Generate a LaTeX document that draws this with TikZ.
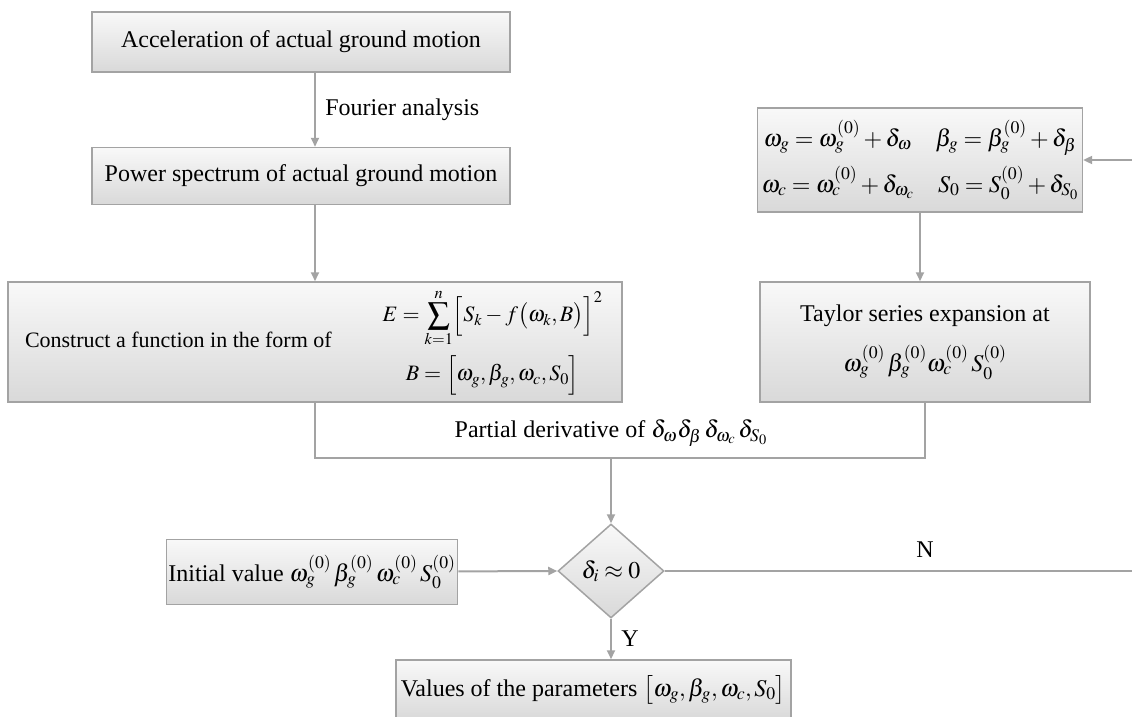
\documentclass[tikz,border=0pt]{standalone}
\usepackage{mathptmx}
\usepackage[no-math]{fontspec}
\setmainfont{Liberation Serif}
\usetikzlibrary{arrows.meta,positioning,shapes.geometric}
\definecolor{lgray}{HTML}{A3A3A3}

\begin{document}
\begin{tikzpicture}[x=1pt, y=-1pt,
    font=\fontsize{24}{29}\selectfont,
    box/.style={rectangle, draw=lgray, line width=1.5pt, top color=gray!5, bottom color=gray!30, inner sep=4pt, align=center},
    dec/.style={diamond, draw=lgray, line width=1.5pt, top color=gray!5, bottom color=gray!30, inner sep=0pt, minimum width=106pt, minimum height=94pt},
    line/.style={draw=lgray, line width=2pt},
    arr/.style={line, -{Triangle[length=9pt, width=8pt]}}
]
    \useasboundingbox (0,0) rectangle (1132,717);

    % left column
    \node[box, minimum width=418pt, minimum height=60pt] (accel) at (301,42) {Acceleration of actual ground motion};
    \node[box, minimum width=418pt, minimum height=57pt] (power) at (301,176) {Power spectrum of actual ground motion};
    \node[box, minimum width=614pt, minimum height=120pt, inner xsep=0pt] (constr) at (315,342)
        {\makebox[580pt][l]{\fontsize{22}{26}\selectfont Construct a function in the form of\hspace{46pt}%
         $\begin{array}{c}
          \displaystyle E=\sum_{k=1}^{n}\Bigl[S_k-f\bigl(\omega_k,B\bigr)\Bigr]^2\\[26pt]
          B=\Bigl[\omega_g,\beta_g,\omega_c,S_0\Bigr]
          \end{array}$}};

    % right column
    \node[box, minimum width=323pt, minimum height=104pt] (eqs) at (920,160)
        {$\omega_g=\omega_g^{(0)}+\delta_\omega\quad\beta_g=\beta_g^{(0)}+\delta_\beta$\\[10pt]
         $\omega_c=\omega_c^{(0)}+\delta_{\omega_c}\quad S_0=S_0^{(0)}+\delta_{S_0}$};
    \node[box, minimum width=330pt, minimum height=120pt] (taylor) at (925,342)
        {Taylor series expansion at\\[18pt]
         $\omega_g^{(0)}\,\beta_g^{(0)}\omega_c^{(0)}\,S_0^{(0)}$};

    % decision
    \node[dec] (check) at (611,571) {$\delta_i\approx 0$};
    \node[box, minimum width=288pt, minimum height=65pt, inner xsep=2pt] (init) at (312,572)
        {Initial value $\omega_g^{(0)}\,\beta_g^{(0)}\,\omega_c^{(0)}\,S_0^{(0)}$};
    \node[box, minimum height=60pt, inner xsep=5pt, anchor=west] (result) at (395,690)
        {Values of the parameters $\bigl[\omega_g,\beta_g,\omega_c,S_0\bigr]$};

    \coordinate (merge) at (611,458);
    \coordinate (back) at (1134,571);

    % Arrows
    \draw[arr] (accel.south -| constr) -- (power.north -| constr) node[midway, right=6pt] (fourier) {Fourier analysis};
    \draw[arr] (power.south -| constr) -- (constr.north);
    \draw[arr] (eqs.south) -- (eqs.south |- taylor.north);
    \draw[line] (constr.south) |- (merge) -| (taylor.south);
    \node (partial) at (611,433) {Partial derivative of $\delta_\omega\delta_\beta\,\delta_{\omega_c}\,\delta_{S_0}$};
    \draw[arr] (merge) -- (check.north);
    \draw[arr] (init) -- (check.west);
    \draw[arr] (check.east) -- (back) |- (eqs.east);
    \node (no) at (925,550) {N};
    \draw[arr] (check.south) -- (result.north -| check) node[midway, right=6pt] (yes) {Y};

\end{tikzpicture}
\end{document}
